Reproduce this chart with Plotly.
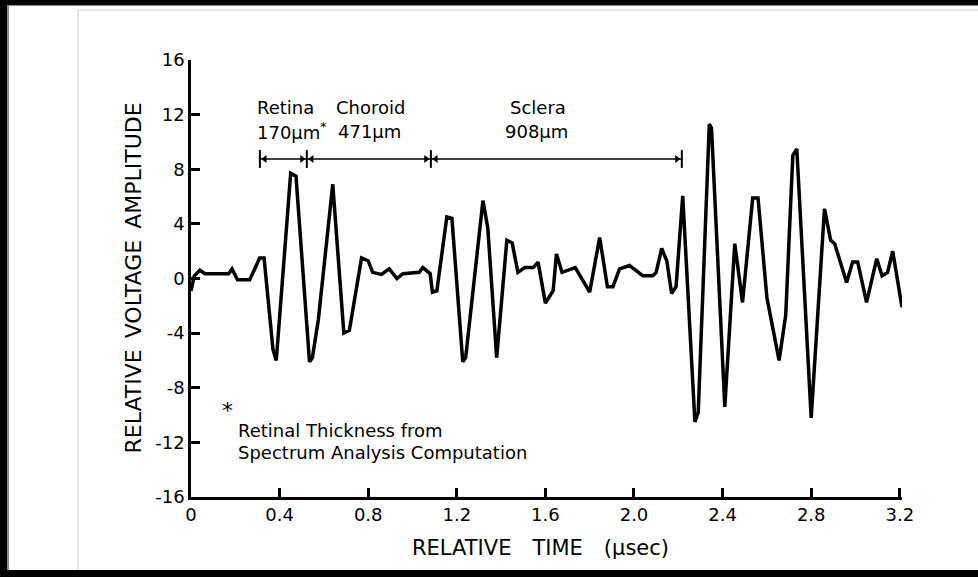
import plotly.graph_objects as go

# Ultrasonic A-scan of the posterior eye wall
time_us = [0.0, 0.015, 0.04, 0.063, 0.17, 0.185, 0.21, 0.265, 0.31, 0.33,
           0.37, 0.385, 0.45, 0.474, 0.535, 0.548, 0.575, 0.64, 0.69, 0.715,
           0.77, 0.80, 0.82, 0.86, 0.895, 0.93, 0.957, 1.03, 1.047, 1.08,
           1.09, 1.11, 1.155, 1.178, 1.227, 1.24, 1.318, 1.34, 1.38, 1.426,
           1.45, 1.476, 1.507, 1.545, 1.567, 1.60, 1.635, 1.65, 1.675, 1.735,
           1.80, 1.845, 1.88, 1.905, 1.935, 1.98, 2.04, 2.085, 2.10, 2.125,
           2.148, 2.17, 2.19, 2.22, 2.275, 2.29, 2.34, 2.35, 2.41, 2.455,
           2.49, 2.536, 2.56, 2.60, 2.655, 2.685, 2.717, 2.735, 2.80, 2.86,
           2.888, 2.906, 2.96, 2.987, 3.01, 3.05, 3.096, 3.12, 3.145, 3.168,
           3.21]
amplitude = [-0.9, 0.2, 0.6, 0.35, 0.35, 0.7, -0.1, -0.1, 1.5, 1.5,
             -5.2, -6.0, 7.7, 7.5, -6.1, -5.8, -3.0, 6.9, -4.0, -3.8,
             1.5, 1.3, 0.45, 0.3, 0.7, 0.0, 0.35, 0.45, 0.8, 0.35,
             -1.0, -0.9, 4.5, 4.4, -6.1, -5.8, 5.7, 3.7, -5.8, 2.8,
             2.6, 0.45, 0.8, 0.8, 1.2, -1.8, -0.9, 1.8, 0.45, 0.8,
             -1.0, 3.0, -0.6, -0.6, 0.7, 0.95, 0.2, 0.2, 0.45, 2.2,
             1.3, -1.1, -0.6, 6.05, -10.5, -9.8, 11.3, 11.0, -9.4, 2.55,
             -1.75, 5.9, 5.9, -1.4, -6.0, -2.7, 9.0, 9.5, -10.2, 5.1,
             2.8, 2.55, -0.3, 1.2, 1.2, -1.75, 1.45, 0.2, 0.45, 2.0,
             -2.1]

x_ticks = [0, 0.4, 0.8, 1.2, 1.6, 2.0, 2.4, 2.8, 3.2]
x_tick_labels = ["0", "0.4", "0.8", "1.2", "1.6", "2.0", "2.4", "2.8", "3.2"]
y_ticks = [-16, -12, -8, -4, 0, 4, 8, 12, 16]
y_tick_labels = ["-16", "-12", "-8", "-4", "0", "4", "8", "12", "16"]

# Layer boundaries (time) marked by the dimension line, and its height
layer_bounds = [0.311, 0.523, 1.083, 2.216]
dim_level = 8.75

# Layer names and thicknesses
layer_names = ["Retina", "Choroid", "Sclera"]
layer_thickness = ["170\u03bcm<sup>*</sup>", "471\u03bcm", "908\u03bcm"]
name_x = [0.29, 0.645, 1.43]
thick_x = [0.29, 0.655, 1.41]

FONT = "DejaVu Sans"
W, H = 978, 577
L, R, T, B = 191, 76, 60, 80
PW, PH = W - L - R, H - T - B


def paper_x(px):
    return (px - L) / PW


def paper_y(py):
    return (H - B - py) / PH


fig = go.Figure()

fig.add_trace(go.Scatter(
    x=time_us, y=amplitude, mode="lines",
    line=dict(color="black", width=3.5, shape="linear"),
    hoverinfo="skip", showlegend=False,
))

# Dimension line with end bars and arrowheads
fig.add_trace(go.Scatter(
    x=[layer_bounds[0], layer_bounds[-1]], y=[dim_level, dim_level],
    mode="lines", line=dict(color="black", width=1.5),
    hoverinfo="skip", showlegend=False,
))
arrow_x, arrow_sym = [], []
for i, b in enumerate(layer_bounds):
    if i > 0:
        arrow_x.append(b - 0.022)
        arrow_sym.append("triangle-right")
    if i < len(layer_bounds) - 1:
        arrow_x.append(b + 0.022)
        arrow_sym.append("triangle-left")
fig.add_trace(go.Scatter(
    x=arrow_x, y=[dim_level] * len(arrow_x), mode="markers",
    marker=dict(symbol=arrow_sym, size=7, color="black"),
    hoverinfo="skip", showlegend=False,
))
shapes = []
for b in layer_bounds:
    shapes.append(dict(type="line", xref="x", yref="y", x0=b, x1=b,
                       y0=dim_level - 0.65, y1=dim_level + 0.65,
                       line=dict(color="black", width=2)))

ANN = 18
annotations = []
for nm, th, nx, tx in zip(layer_names, layer_thickness, name_x, thick_x):
    annotations.append(dict(x=nx, y=12.5, xref="x", yref="y", text=nm,
                            showarrow=False, xanchor="left", yanchor="middle",
                            font=dict(family=FONT, size=ANN, color="black")))
    annotations.append(dict(x=tx, y=10.8, xref="x", yref="y", text=th,
                            showarrow=False, xanchor="left", yanchor="middle",
                            font=dict(family=FONT, size=ANN, color="black")))

# Footnote
annotations.append(dict(x=0.163, y=-9.7, xref="x", yref="y", text="*",
                        showarrow=False, xanchor="center", yanchor="middle",
                        font=dict(family=FONT, size=22, color="black")))
annotations.append(dict(x=0.205, y=-11.1, xref="x", yref="y",
                        text="Retinal Thickness from",
                        showarrow=False, xanchor="left", yanchor="middle",
                        font=dict(family=FONT, size=ANN, color="black")))
annotations.append(dict(x=0.205, y=-12.75, xref="x", yref="y",
                        text="Spectrum Analysis Computation",
                        showarrow=False, xanchor="left", yanchor="middle",
                        font=dict(family=FONT, size=ANN, color="black")))

# Axis titles
annotations.append(dict(x=paper_x(133), y=0.5, xref="paper", yref="paper",
                        text="RELATIVE\u2002VOLTAGE\u2002AMPLITUDE",
                        textangle=-90, showarrow=False,
                        xanchor="center", yanchor="middle",
                        font=dict(family=FONT, size=22, color="black")))
annotations.append(dict(x=paper_x(540), y=paper_y(548), xref="paper", yref="paper",
                        text="RELATIVE\u2003TIME\u2003(\u03bcsec)",
                        showarrow=False, xanchor="center", yanchor="middle",
                        font=dict(family=FONT, size=21, color="black")))

# Page frame: black borders and faint slide guides
frame = [
    (0, 0, W, 5, "black"), (0, 0, 7, H, "black"), (0, H - 7, W, H, "black"),
    (7, 5, 9, H - 7, "#888888"), (9, 5, W, 6, "#888888"),
]
for x0, y0, x1, y1, c in frame:
    shapes.append(dict(type="rect", xref="paper", yref="paper",
                       x0=paper_x(x0), x1=paper_x(x1),
                       y0=paper_y(y1), y1=paper_y(y0),
                       fillcolor=c, line=dict(width=0), layer="above"))
shapes.append(dict(type="line", xref="paper", yref="paper",
                   x0=paper_x(78), x1=paper_x(78), y0=paper_y(H - 7), y1=paper_y(10),
                   line=dict(color="#e4e4f0", width=2), layer="below"))
shapes.append(dict(type="line", xref="paper", yref="paper",
                   x0=paper_x(78), x1=paper_x(W), y0=paper_y(10), y1=paper_y(10),
                   line=dict(color="#e4e4f0", width=2), layer="below"))

axis_common = dict(
    showline=True, linecolor="black", linewidth=2.5, mirror=False,
    ticks="inside", ticklen=9, tickwidth=2.5, tickcolor="black",
    showgrid=False, zeroline=False,
    tickfont=dict(family=FONT, size=18, color="black"),
)

fig.update_layout(
    width=W, height=H,
    margin=dict(l=L, r=R, t=T, b=B),
    paper_bgcolor="white", plot_bgcolor="white",
    xaxis=dict(range=[0, 3.21], tickvals=x_ticks, ticktext=x_tick_labels,
               **axis_common),
    yaxis=dict(range=[-16, 16], tickvals=y_ticks, ticktext=y_tick_labels,
               **axis_common),
    shapes=shapes, annotations=annotations,
    showlegend=False,
)

fig.write_html("out.html")
